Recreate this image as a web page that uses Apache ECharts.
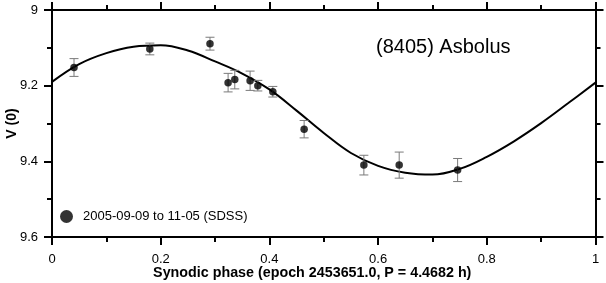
<!DOCTYPE html>
<html><head><meta charset="utf-8">
<script src="https://cdn.jsdelivr.net/npm/echarts@6/dist/echarts.min.js"></script>
<style>html,body{margin:0;padding:0;background:#fff}#c{width:606px;height:283px}</style>
</head><body><div id="c"></div>
<script>
// Observations (SDSS 2005-09-09 to 11-05)
const phase = [0.0405, 0.180, 0.2907, 0.324, 0.3363, 0.3645, 0.3787, 0.4063, 0.4639, 0.5738, 0.6388, 0.7463];
const mag   = [9.152, 9.103, 9.089, 9.192, 9.184, 9.187, 9.200, 9.216, 9.315, 9.410, 9.410, 9.423];
const err   = [0.0235, 0.0155, 0.017, 0.0245, 0.0245, 0.0255, 0.014, 0.014, 0.023, 0.026, 0.0345, 0.0305];
// Fitted curve
const fitPhase = [0, 0.05, 0.1, 0.15, 0.2, 0.25, 0.3, 0.35, 0.4, 0.45, 0.5, 0.55, 0.6, 0.65, 0.7, 0.75, 0.8, 0.85, 0.9, 0.95, 1.0];
const fitMag   = [9.190, 9.143, 9.114, 9.097, 9.093, 9.107, 9.136, 9.168, 9.210, 9.266, 9.325, 9.378, 9.412, 9.430, 9.435, 9.420, 9.388, 9.347, 9.299, 9.246, 9.192];
// Tick labels
const xTicks = ['0', '0.2', '0.4', '0.6', '0.8', '1'];
const yTicks = ['9', '9.2', '9.4', '9.6'];
const seriesName = '2005-09-09 to 11-05 (SDSS)';
const titleText = '(8405) Asbolus';
const xName = 'Synodic phase (epoch 2453651.0, P = 4.4682 h)';
const yName = 'V (0)';

const FONT = "'Liberation Sans', Arial, Helvetica, sans-serif";
const chart = echarts.init(document.getElementById('c'), null, {renderer: 'canvas'});

const pts = phase.map((p, i) => [p, mag[i]]);
const ebars = phase.map((p, i) => [p, mag[i], err[i]]);
const fit = fitPhase.map((p, i) => [p, fitMag[i]]);

function axisCommon(showLabels) {
  return {
    axisLine: {show: true, onZero: false, lineStyle: {color: '#000', width: 2}},
    axisTick: {show: true, inside: false, length: 8, lineStyle: {color: '#000', width: 2}},
    minorTick: {show: true, splitNumber: 2, length: 5, lineStyle: {color: '#000', width: 2}},
    splitLine: {show: false},
    minorSplitLine: {show: false},
    axisLabel: {show: showLabels, color: '#000', fontFamily: FONT, fontSize: 13}
  };
}

const xBase = {type: 'value', min: 0, max: 1, interval: 0.2};
const yBase = {type: 'value', min: 9, max: 9.6, interval: 0.2, inverse: true};

chart.setOption({
  animation: false,
  backgroundColor: '#fff',
  title: {
    text: titleText, left: 376, top: 37, padding: 0,
    textStyle: {fontFamily: FONT, fontSize: 20, fontWeight: 'normal', color: '#000'}
  },
  legend: {
    data: [{name: seriesName, icon: 'circle'}],
    left: 60, top: 210, padding: 0,
    itemWidth: 13, itemHeight: 13,
    textStyle: {fontFamily: FONT, fontSize: 13, color: '#000', padding: [0, 0, 0, 5]}
  },
  grid: {left: 52, right: 10.5, top: 10, bottom: 46, containLabel: false, outerBoundsMode: 'none'},
  xAxis: [
    Object.assign({}, xBase, axisCommon(true), {
      position: 'bottom',
      name: xName, nameLocation: 'middle', nameGap: 29, nameMoveOverlap: false,
      nameTextStyle: {fontFamily: FONT, fontSize: 14.3, fontWeight: 'bold', color: '#000', padding: [0, 23, 0, 0]},
      axisLabel: {show: true, color: '#000', fontFamily: FONT, fontSize: 13, margin: 16,
        formatter: v => xTicks[Math.round(v / 0.2)]}
    }),
    Object.assign({}, xBase, axisCommon(false), {position: 'top'})
  ],
  yAxis: [
    Object.assign({}, yBase, axisCommon(true), {
      position: 'left',
      name: yName, nameLocation: 'middle', nameGap: 33, nameRotate: 90, nameMoveOverlap: false,
      nameTextStyle: {fontFamily: FONT, fontSize: 14, fontWeight: 'bold', color: '#000'},
      axisLabel: {show: true, color: '#000', fontFamily: FONT, fontSize: 13, margin: 14,
        formatter: v => yTicks[Math.round((v - 9) / 0.2)]}
    }),
    Object.assign({}, yBase, axisCommon(false), {position: 'right'})
  ],
  series: [
    {
      type: 'line', data: fit, smooth: 0.4, showSymbol: false, symbol: 'none',
      lineStyle: {color: '#000', width: 2}, silent: true, z: 2
    },
    {
      type: 'custom', data: ebars, z: 3, silent: true,
      renderItem: function (params, api) {
        const x = api.value(0), y = api.value(1), e = api.value(2);
        const top = api.coord([x, y - e]);
        const bot = api.coord([x, y + e]);
        const hw = 4.5;
        const st = {stroke: '#7a7a7a', lineWidth: 1};
        return {type: 'group', children: [
          {type: 'line', shape: {x1: top[0], y1: top[1], x2: bot[0], y2: bot[1]}, style: st},
          {type: 'line', shape: {x1: top[0] - hw, y1: top[1], x2: top[0] + hw, y2: top[1]}, style: st},
          {type: 'line', shape: {x1: bot[0] - hw, y1: bot[1], x2: bot[0] + hw, y2: bot[1]}, style: st}
        ]};
      },
      encode: {x: 0, y: 1}
    },
    {
      name: seriesName, type: 'scatter', data: pts, symbol: 'circle', symbolSize: 7.5,
      itemStyle: {color: '#000'}, z: 4
    }
  ]
});
</script></body></html>
